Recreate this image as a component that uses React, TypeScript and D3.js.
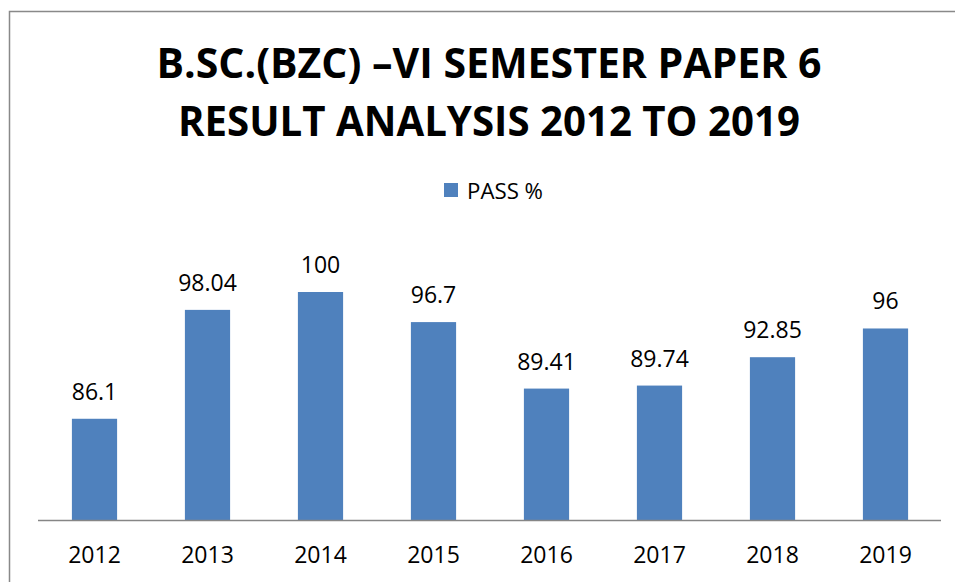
import React from "react";
import * as d3 from "d3";

const categories = ["2012", "2013", "2014", "2015", "2016", "2017", "2018", "2019"];
const passValues = [86.1, 98.04, 100, 96.7, 89.41, 89.74, 92.85, 96];
const valueLabels = ["86.1", "98.04", "100", "96.7", "89.41", "89.74", "92.85", "96"];
const titleLines = ["B.SC.(BZC) \u2013VI SEMESTER PAPER 6", "RESULT ANALYSIS 2012 TO 2019"];
const seriesName = "PASS %";

const W = 955;
const H = 582;
const FONT = "'Open Sans', 'Noto Sans', sans-serif";
const BAR = "#4F81BD";

export default function App() {
  const x = d3.scaleBand<string>().domain(categories).range([38, 942]).paddingInner(0.6).paddingOuter(0.3);
  const y = d3.scaleLinear().domain([75, 100]).range([520, 292]);

  return (
    <svg width={W} height={H} style={{ position: "absolute", left: 0, top: 0, background: "#fff" }}>
      <rect x={0} y={0} width={W} height={H} fill="#fff" />
      <rect x={9.5} y={11.5} width={W + 20} height={H + 20} fill="none" stroke="#898989" strokeWidth={1.5} />
      {titleLines.map((t, i) => (
        <text
          key={i}
          x={489}
          y={i === 0 ? 78 : 136}
          textAnchor="middle"
          fontFamily={FONT}
          fontWeight={700}
          fontSize={42}
          textLength={i === 0 ? 665 : 622}
          lengthAdjust="spacingAndGlyphs"
          fill="#000"
        >
          {t}
        </text>
      ))}
      <rect x={444} y={183} width={14} height={14} fill={BAR} />
      <text x={467} y={199} fontFamily={FONT} fontSize={21} textLength={76} lengthAdjust="spacingAndGlyphs" fill="#000">
        {seriesName}
      </text>
      {categories.map((c, i) => {
        const bx = x(c)!;
        const bw = x.bandwidth();
        const top = y(passValues[i]);
        return (
          <g key={c}>
            <rect x={bx} y={top} width={bw} height={y(75) - top} fill={BAR} />
            <text x={bx + bw / 2} y={top - 19} textAnchor="middle" fontFamily={FONT} fontSize={23} fill="#000">
              {valueLabels[i]}
            </text>
            <text x={bx + bw / 2} y={563} textAnchor="middle" fontFamily={FONT} fontSize={23} fill="#000">
              {c}
            </text>
          </g>
        );
      })}
      <line x1={38} x2={941} y1={520.5} y2={520.5} stroke="#868686" strokeWidth={1.5} />
    </svg>
  );
}
